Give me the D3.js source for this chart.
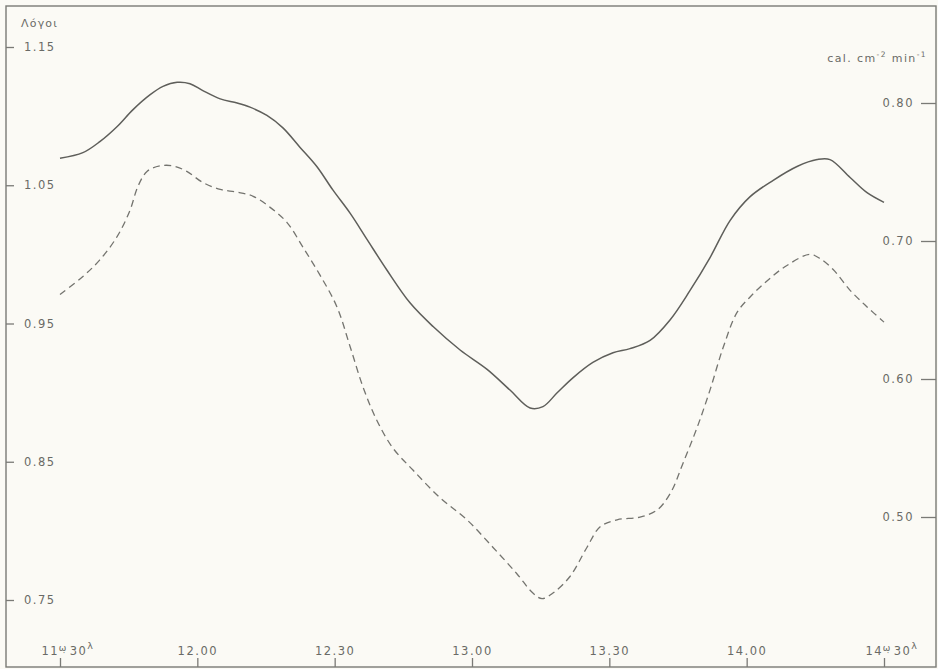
<!DOCTYPE html>
<html><head><meta charset="utf-8">
<script src="https://cdn.jsdelivr.net/npm/d3@7"></script>
<style>
html,body{margin:0;padding:0;background:#fbfaf5;}
svg{display:block;}
text{font-family:"DejaVu Sans","Liberation Sans",sans-serif;fill:#6a6a66;}
</style></head><body>
<svg id="c" width="938" height="669"></svg>
<script>
// time in minutes after midnight (11:30 = 690 ... 14:30 = 870)
const solidTimes = [690,695,698.7,702.5,705.9,709.7,712.5,715.6,718.4,721.2,725,728.7,731.5,735.2,738.7,742.4,746.1,749.6,753.4,757.1,761.4,766.5,771.5,777.4,783.3,788.3,792.7,795.5,798.6,802.1,806.4,810.8,814.5,818.9,823.3,827.6,832,836.4,840.7,845.8,851,855.4,858.2,862.6,866.3,870];
// cal cm^-2 min^-1 (right axis)
const solidValues = [0.760,0.764,0.772,0.783,0.795,0.806,0.812,0.815,0.814,0.809,0.803,0.800,0.797,0.791,0.782,0.768,0.754,0.737,0.720,0.701,0.679,0.655,0.638,0.621,0.607,0.592,0.579,0.580,0.590,0.601,0.612,0.619,0.622,0.628,0.643,0.664,0.688,0.715,0.732,0.744,0.754,0.759,0.759,0.746,0.735,0.728];

const dashedTimes = [690,695,698.7,702.5,705.3,707,709,711.8,714.7,717.7,721.2,725,728.7,732.2,735.9,739.6,743.1,746.8,750.5,753.4,756.2,759.2,762.7,767.1,773,778.9,784.6,789.8,793.3,795.3,797.7,801.4,805.1,808,811.7,816.7,820.4,823.3,826.1,829.2,832,834.9,837.9,840.7,844.5,848.8,853.8,856,858.9,862.6,866.3,870];
// Λόγοι (left axis)
const dashedValues = [0.971,0.984,0.996,1.013,1.032,1.049,1.060,1.064,1.064,1.060,1.052,1.047,1.045,1.042,1.034,1.023,1.005,0.985,0.962,0.933,0.904,0.880,0.860,0.844,0.824,0.808,0.788,0.769,0.755,0.751,0.755,0.767,0.788,0.803,0.808,0.810,0.815,0.827,0.849,0.875,0.902,0.933,0.958,0.969,0.981,0.992,1.000,0.997,0.989,0.974,0.962,0.951];

const xTicks = [690,720,750,780,810,840,870];
const xTickLabels = ["11.30","12.00","12.30","13.00","13.30","14.00","14.30"];
const leftTicks = [0.75,0.85,0.95,1.05,1.15];
const rightTicks = [0.50,0.60,0.70,0.80];
const leftTitle = "Λόγοι";
const rightTitle = ["cal. cm", "-2", " min", "-1"];

const svg = d3.select("#c");
const frame = {l:6, t:6, r:936, b:667};

const x = d3.scaleLinear().domain([690,870]).range([60,884]);
const yL = d3.scaleLinear().domain([0.75,1.15]).range([600,47]);
const yR = d3.scaleLinear().domain([0.50,0.80]).range([517,103]);

svg.append("rect").attr("x",frame.l).attr("y",frame.t)
  .attr("width",frame.r-frame.l).attr("height",frame.b-frame.t)
  .attr("fill","none").attr("stroke","#7a7a76").attr("stroke-width",1.4);

const fmt2 = d3.format(".2f");

const gL = svg.append("g").attr("transform",`translate(${frame.l},0)`)
  .call(d3.axisRight(yL).tickValues(leftTicks).tickSize(8).tickPadding(10).tickFormat(fmt2));
const gR = svg.append("g").attr("transform",`translate(${frame.r},0)`)
  .call(d3.axisLeft(yR).tickValues(rightTicks).tickSize(15).tickPadding(7).tickFormat(fmt2));
const gB = svg.append("g").attr("transform",`translate(0,${frame.b})`)
  .call(d3.axisTop(x).tickValues(xTicks).tickSize(9).tickPadding(3).tickFormat((d,i)=>xTickLabels[i]));

[gL,gR,gB].forEach(g=>{
  g.select(".domain").remove();
  g.selectAll(".tick line").attr("stroke","#7a7a76").attr("stroke-width",1.3);
  g.selectAll(".tick text").attr("font-size",11.5).attr("letter-spacing","1.5px")
    .attr("font-family",null).attr("fill","#6a6a66");
});

// end labels 11ω30λ / 14ω30λ: ω with a dot below, centred on the tick
gB.selectAll(".tick").filter((d,i)=>i===0||i===xTicks.length-1).each(function(){
  const t = d3.select(this).select("text");
  const hh = t.text().split(".")[0];
  t.text(null).attr("text-anchor","start").attr("x",-19).attr("y",-12).attr("dy",null);
  t.append("tspan").text(hh);
  t.append("tspan").attr("dx",-0.5).attr("dy",-4).attr("font-size",9).attr("letter-spacing","0px").text("ω\u0323");
  t.append("tspan").attr("dx",3.5).attr("dy",4).text("30");
  t.append("tspan").attr("dy",-6).attr("font-size",9.5).text("λ");
});

svg.append("text").attr("x",21).attr("y",27).attr("font-size",11)
  .attr("letter-spacing","1.2px").text(leftTitle);
const rt = svg.append("text").attr("x",927).attr("y",62).attr("text-anchor","end")
  .attr("font-size",11).attr("letter-spacing","1.4px");
rt.append("tspan").text(rightTitle[0]);
rt.append("tspan").attr("dy",-5).attr("font-size",7.5).text(rightTitle[1]);
rt.append("tspan").attr("dy",5).text(rightTitle[2]);
rt.append("tspan").attr("dy",-5).attr("font-size",7.5).text(rightTitle[3]);

const lineR = d3.line().x(d=>x(d[0])).y(d=>yR(d[1])).curve(d3.curveCatmullRom.alpha(0.5));
const lineL = d3.line().x(d=>x(d[0])).y(d=>yL(d[1])).curve(d3.curveCatmullRom.alpha(0.5));

svg.append("path").datum(solidTimes.map((t,i)=>[t,solidValues[i]]))
  .attr("d",lineR).attr("fill","none").attr("stroke","#5e5e5a").attr("stroke-width",1.5);
svg.append("path").datum(dashedTimes.map((t,i)=>[t,dashedValues[i]]))
  .attr("d",lineL).attr("fill","none").attr("stroke","#74746f").attr("stroke-width",1.3)
  .attr("stroke-dasharray","7,4.5");
</script>
</body></html>
